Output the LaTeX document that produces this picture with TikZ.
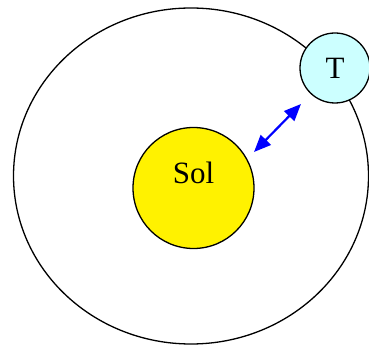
\documentclass[tikz,border=0pt]{standalone}
\usepackage{fontspec}
\setmainfont{Liberation Serif}
\usetikzlibrary{arrows.meta}
\definecolor{tcyan}{RGB}{204,255,255}
\begin{document}
\begin{tikzpicture}[x=1pt,y=1pt,
  orbit/.style={draw=black,line width=1.3pt},
  body/.style={circle,draw=black,line width=1.3pt,inner sep=0pt},
  lbl/.style={font=\fontsize{31}{31}\selectfont,inner sep=0pt},
  link/.style={draw=blue,line width=2.2pt,{Triangle[length=17pt,width=14pt]}-{Triangle[length=17pt,width=14pt]}}]
\useasboundingbox (0,0) rectangle (369,345);
\draw[orbit] (191,169) ellipse [x radius=177.5, y radius=168];
\node[body,fill=yellow,minimum size=121pt] (sun) at (193.5,157) {};
\node[lbl] (sol) at ([yshift=15pt]sun.center) {Sol};
\node[body,fill=tcyan,minimum size=70pt,lbl,draw=black,line width=1.3pt,circle] (earth) at (335,277) {T};
\coordinate (a) at (254,193);
\coordinate (b) at (301,241);
\draw[link] (a) -- (b);
\end{tikzpicture}
\end{document}
